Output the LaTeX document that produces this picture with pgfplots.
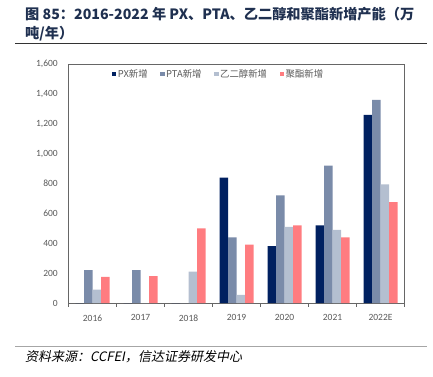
\documentclass[border=0pt]{standalone}
\usepackage{pgfplots}
\pgfplotsset{compat=1.18}
\usepackage{fontspec}
\setmainfont{Carlito}
\newfontfamily\cjk{Noto Sans CJK SC}
\newfontfamily\cjkit[FakeSlant=0.2]{Noto Sans CJK SC}
\definecolor{cPX}{HTML}{002060}
\definecolor{cPTA}{HTML}{7A8BA9}
\definecolor{cEG}{HTML}{B4BFD0}
\definecolor{cPE}{HTML}{FF7C80}
\definecolor{ctitle}{HTML}{1F3050}
\definecolor{ctick}{HTML}{595959}
\begin{document}
\begin{tikzpicture}
\useasboundingbox (0,0) rectangle (433pt,376pt);
\begin{axis}[
  at={(68.5pt,73pt)}, anchor=south west,
  scale only axis, width=336pt, height=239pt,
  xmin=-0.5, xmax=6.5, ymin=0, ymax=1600,
  ybar=0pt, bar width=8.5pt,
  xtick={0,...,6},
  xticklabels={2016,2017,2018,2019,2020,2021,2022E},
  major x tick style={draw=none},
  minor xtick={-0.5,0.5,...,6.5},
  minor x tick style={draw=gray!80!black, thin},
  minor tick length=3.5pt,
  tick align=outside,
  xtick pos=bottom,
  ytick={0,200,...,1600},
  ytick style={draw=none},
  ytick pos=left,
  axis line style={draw=gray!80!black, line width=0.8pt},
  tick label style={font=\fontsize{9.5}{11}\selectfont, text=ctick},
  /pgf/number format/assume math mode=true,
  /pgf/number format/.cd, 1000 sep={,},
  /pgfplots/.cd,
  xticklabel style={yshift=-4pt},
  yticklabel style={xshift=-3pt},
  legend columns=4,
  legend style={draw=none, fill=none, inner sep=0pt, outer sep=0pt,
    at={(0.129,0.958)}, anchor=west,
    font=\cjk\fontsize{9.4}{11}\selectfont, text=ctick,
    nodes={inner sep=1.5pt},
    /tikz/every even column/.append style={column sep=11pt}},
  legend image code/.code={\fill[#1] (0pt,-2pt) rectangle (4.5pt,2.5pt);},
]
\addplot[fill=cPX, draw=none] coordinates {(0,0) (1,0) (2,0) (3,840) (4,380) (5,520) (6,1260)};
\addplot[fill=cPTA, draw=none] coordinates {(0,220) (1,220) (2,0) (3,440) (4,720) (5,920) (6,1360)};
\addplot[fill=cEG, draw=none] coordinates {(0,90) (1,0) (2,210) (3,55) (4,510) (5,490) (6,795)};
\addplot[fill=cPE, draw=none] coordinates {(0,175) (1,180) (2,500) (3,390) (4,520) (5,440) (6,675)};
\legend{PX新增, PTA新增, 乙二醇新增, 聚酯新增}
\end{axis}
\node[anchor=base west, inner sep=0pt, text=ctitle, font=\cjk\bfseries\fontsize{14.2}{16}\selectfont] at (25pt,356pt) {图 85：2016-2022 年 PX、PTA、乙二醇和聚酯新增产能（万};
\node[anchor=base west, inner sep=0pt, text=ctitle, font=\cjk\bfseries\fontsize{14.2}{16}\selectfont] at (25pt,337.5pt) {吨/年）};
\draw[black!80, line width=0.8pt] (15pt,332.3pt) -- (427pt,332.3pt);
\draw[gray!70, line width=1.2pt] (15pt,29.3pt) -- (427pt,29.3pt);
\node[anchor=base west, inner sep=0pt, text=black, font=\cjkit\fontsize{13}{15}\selectfont] at (25pt,14.5pt) {资料来源：CCFEI，信达证券研发中心};
\end{tikzpicture}
\end{document}
